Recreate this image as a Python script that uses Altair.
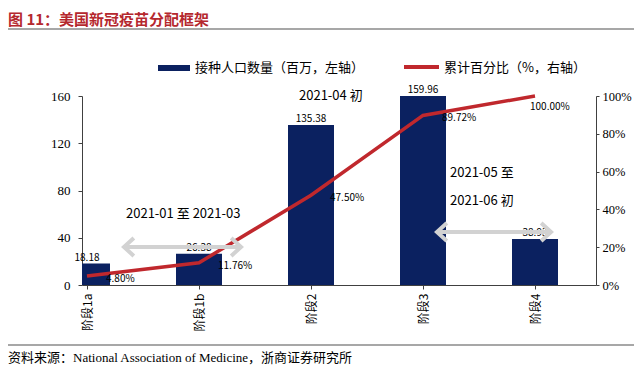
import json
import altair as alt
import pandas as pd

stages = ["阶段1a", "阶段1b", "阶段2", "阶段3", "阶段4"]
population = [18.18, 26.38, 135.38, 159.96, 38.93]
cum_pct = [0.0480, 0.1176, 0.4750, 0.8972, 1.0000]
left_ticks = [0, 40, 80, 120, 160]
right_ticks = [0, 0.2, 0.4, 0.6, 0.8, 1.0]

title_text = "图 11：美国新冠疫苗分配框架"
legend_bar = "接种人口数量（百万，左轴）"
legend_line = "累计百分比（%，右轴）"
source_text = "资料来源：National Association of Medicine，浙商证券研究所"

NAVY = "#0b2160"
RED = "#c0282d"
GRAY_ARROW = "#d2d2d2"
CJK = "Noto Sans CJK SC"

df = pd.DataFrame({
    "idx": list(range(len(stages))),
    "stage": stages,
    "pop": population,
    "pct": cum_pct,
})
df["pop_label"] = [f"{v:.2f}" for v in population]
df["pct_label"] = [f"{v*100:.2f}%" for v in cum_pct]

label_expr = json.dumps(stages, ensure_ascii=False) + "[datum.value]"

x_enc = alt.X(
    "idx:Q",
    scale=alt.Scale(domain=[0, 4.5], nice=False, zero=False),
    axis=alt.Axis(
        values=list(range(len(stages))), labelExpr=label_expr, labelAngle=-90,
        title=None, grid=False, domainColor="#404040", tickColor="#404040",
        tickSize=4, labelFont=CJK, labelFontSize=12, labelColor="#000",
        labelPadding=4,
    ),
)

y_left = alt.Y(
    "pop:Q",
    scale=alt.Scale(domain=[0, 160], nice=False),
    axis=alt.Axis(
        values=left_ticks, title=None, grid=False, domainColor="#404040",
        tickColor="#404040", tickSize=4, labelFont="Liberation Serif",
        labelFontSize=13, labelColor="#000", labelPadding=8,
    ),
)

y_right = alt.Y(
    "pct:Q",
    scale=alt.Scale(domain=[0, 1], nice=False),
    axis=alt.Axis(
        orient="right", values=right_ticks, format=".0%", title=None, grid=False,
        domainColor="#404040", tickColor="#404040", tickSize=3,
        labelFont="Liberation Serif", labelFontSize=12.5, labelColor="#000",
        labelPadding=3,
    ),
)

base = alt.Chart(df)

bars = base.mark_bar(color=NAVY, size=46, clip=True).encode(x=x_enc, y=y_left)
bar_labels = base.mark_text(
    font=CJK, fontSize=10, baseline="bottom", dy=-1, color="#000"
).encode(x=x_enc, y=y_left, text="pop_label")

left = alt.layer(bars, bar_labels)

line = base.mark_line(color=RED, strokeWidth=3.5).encode(x=x_enc, y=y_right)
pct_labels = base.transform_filter("datum.idx < 4").mark_text(
    font=CJK, fontSize=10, align="left", baseline="middle", dx=19, dy=3, color="#000"
).encode(x=x_enc, y=y_right, text="pct_label")
pct_last = base.transform_filter("datum.idx == 4").mark_text(
    font=CJK, fontSize=10, align="left", baseline="middle", dx=-5, dy=11, color="#000"
).encode(x=x_enc, y=y_right, text="pct_label")

right = alt.layer(line, pct_labels, pct_last)

main = alt.layer(left, right).resolve_scale(y="independent")


def txt(t, x, y, size=13, color="#000", weight="normal", font=CJK, align="left"):
    return alt.Chart(pd.DataFrame({"t": [t]})).mark_text(
        font=font, fontSize=size, color=color, fontWeight=weight,
        align=align, baseline="middle",
    ).encode(x=alt.value(x), y=alt.value(y), text="t")


def hrule(x1, x2, y, color, width):
    return alt.Chart(pd.DataFrame({"a": [0]})).mark_rule(
        color=color, strokeWidth=width
    ).encode(x=alt.value(x1), x2=alt.value(x2), y=alt.value(y))


def arrow(x1, x2, y):
    shaft = hrule(x1 + 2, x2 - 2, y, GRAY_ARROW, 4)
    d = pd.DataFrame({"a": [0]})
    lh = alt.Chart(d).mark_point(
        shape="M1.1,-1L0,0L1.1,1", filled=False, stroke=GRAY_ARROW,
        strokeWidth=4, size=320, opacity=1,
    ).encode(x=alt.value(x1), y=alt.value(y))
    rh = alt.Chart(d).mark_point(
        shape="M-1.1,-1L0,0L-1.1,1", filled=False, stroke=GRAY_ARROW,
        strokeWidth=4, size=320, opacity=1,
    ).encode(x=alt.value(x2), y=alt.value(y))
    return [shaft, lh, rh]


deco = [
    txt(title_text, -74, -76, size=15, color="#b5282e", weight="bold"),
    hrule(-74, 552, -67, "#8a8a8a", 1.5),
    hrule(76, 108, -28, NAVY, 6),
    txt(legend_bar, 113, -28, size=13),
    hrule(322, 357, -29, RED, 4),
    txt(legend_line, 362, -28, size=13),
    txt("2021-04 初", 217, 0, size=13),
    txt("2021-01 至 2021-03", 44, 118, size=13),
    txt("2021-05 至", 368, 77, size=13),
    txt("2021-06 初", 368, 105, size=13),
    *arrow(42, 159, 151),
    *arrow(355, 469, 136),
    hrule(-74, 552, 249, "#8a8a8a", 1.5),
    txt(source_text, -74, 262, size=13, font="Liberation Serif, Noto Sans CJK SC"),
]

chart = alt.layer(main, *deco).properties(
    width=514,
    height=189,
    padding={"left": 74, "top": 88, "right": 38, "bottom": 84},
    autosize=alt.AutoSizeParams(type="none"),
).configure_view(stroke=None)

chart.save("out.html", embed_options={"renderer": "svg", "actions": False})
